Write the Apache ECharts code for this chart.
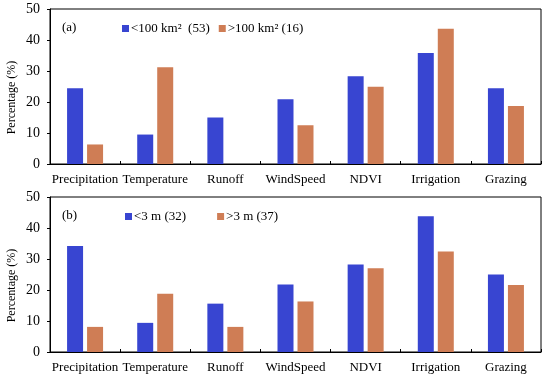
<!DOCTYPE html>
<html><head><meta charset="utf-8">
<script src="https://cdn.jsdelivr.net/npm/echarts@6/dist/echarts.min.js"></script>
<style>html,body{margin:0;padding:0;background:#fff}#c{width:550px;height:378px}</style>
</head><body><div id="c"></div>
<script>
const categories = ['Precipitation','Temperature','Runoff','WindSpeed','NDVI','Irrigation','Grazing'];
const yTicks = [0,10,20,30,40,50];
const seriesNamesA = ['<100 km\u00b2  (53)', '>100 km\u00b2 (16)'];
const seriesNamesB = ['<3 m (32)', '>3 m (37)'];
const aSmall = [24.4, 9.5, 15.0, 20.9, 28.3, 35.8, 24.4];
const aLarge = [6.3, 31.2, 0, 12.5, 24.9, 43.6, 18.7];
const bLow = [34.2, 9.4, 15.6, 21.8, 28.2, 43.8, 25.0];
const bHigh = [8.1, 18.8, 8.1, 16.3, 27.0, 32.4, 21.6];

const FONT = '"Liberation Serif", "Times New Roman", Times, serif';
const BLUE = '#3845d1', ORANGE = '#cf7d55';
const chart = echarts.init(document.getElementById('c'));
function xAx(i){return {type:'category',data:categories,gridIndex:i,
  axisLine:{lineStyle:{color:'#000',width:1}},
  axisTick:{show:true,inside:true,length:3,lineStyle:{color:'#000'}},
  axisLabel:{color:'#000',fontFamily:FONT,fontSize:13,margin:9,interval:0}};}
function yAx(i){return {type:'value',gridIndex:i,min:yTicks[0],max:yTicks[yTicks.length-1],interval:10,
  name:'Percentage (%)',nameLocation:'middle',nameGap:32,nameRotate:90,nameMoveOverlap:false,
  nameTextStyle:{color:'#000',fontFamily:FONT,fontSize:12,padding:[0,22,0,0]},
  axisLine:{show:true,lineStyle:{color:'#000',width:1}},
  axisTick:{show:true,inside:false,length:3,lineStyle:{color:'#000'}},
  splitLine:{show:false},
  axisLabel:{color:'#000',fontFamily:FONT,fontSize:14,margin:10}};}
function bar(name,data,color,i){return {type:'bar',name,data,xAxisIndex:i,yAxisIndex:i,
  barWidth:16,barGap:'25%',itemStyle:{color},emphasis:{disabled:true}};}
chart.setOption({
  animation:false,
  grid:[
    {left:50,top:9,width:491,height:155,show:true,borderColor:'#000',borderWidth:1,containLabel:false,outerBoundsMode:'none'},
    {left:50,top:197,width:491,height:155,show:true,borderColor:'#000',borderWidth:1,containLabel:false,outerBoundsMode:'none'}
  ],
  title:[
    {text:'(a)',left:57,top:16,textStyle:{fontFamily:FONT,fontSize:13,fontWeight:'normal',color:'#000'}},
    {text:'(b)',left:57,top:204,textStyle:{fontFamily:FONT,fontSize:13,fontWeight:'normal',color:'#000'}}
  ],
  legend:[
    {data:seriesNamesA,left:117,top:17,icon:'rect',itemWidth:7,itemHeight:7,itemGap:9,
     textStyle:{fontFamily:FONT,fontSize:13,color:'#000',padding:[0,0,0,-3]}},
    {data:seriesNamesB,left:120,top:205,icon:'rect',itemWidth:7,itemHeight:7,itemGap:31,
     textStyle:{fontFamily:FONT,fontSize:13,color:'#000',padding:[0,0,0,-3]}}
  ],
  xAxis:[xAx(0),xAx(1)],
  yAxis:[yAx(0),yAx(1)],
  series:[
    bar(seriesNamesA[0],aSmall,BLUE,0),
    bar(seriesNamesA[1],aLarge,ORANGE,0),
    bar(seriesNamesB[0],bLow,BLUE,1),
    bar(seriesNamesB[1],bHigh,ORANGE,1)
  ]
});
</script></body></html>
